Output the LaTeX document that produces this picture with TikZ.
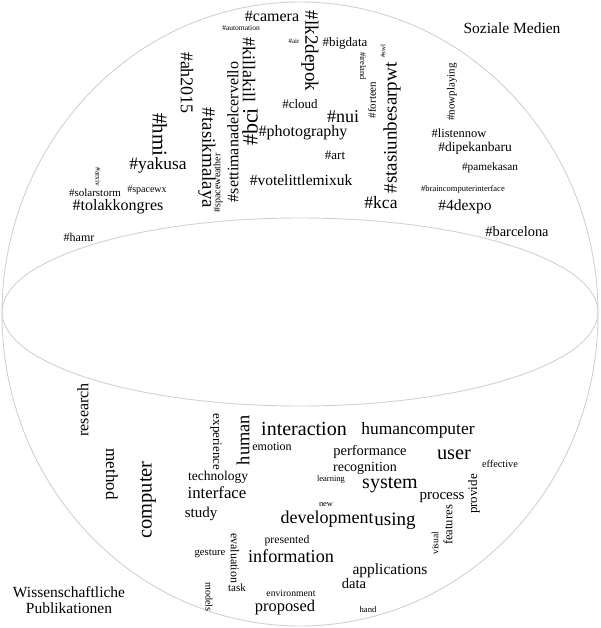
\documentclass[tikz,border=0pt]{standalone}
\usepackage{fontspec}
\setmainfont{Liberation Serif}
\definecolor{sphereGray}{rgb}{0.82,0.82,0.82}

\begin{document}
\begin{tikzpicture}[x=1pt,y=-1pt,
    wd/.style={inner sep=0pt, font=\fontsize{#1}{#1}\selectfont},
    rotup/.style={rotate=90}, rotdn/.style={rotate=-90}]
    \useasboundingbox (0,0) rectangle (600,628);

    % sphere and equator
    \draw [sphereGray,line width=0.9pt] (300,314) ellipse [x radius=298, y radius=312];
    \draw [sphereGray,line width=0.9pt] (300,312) ellipse [x radius=298, y radius=94];

    \node[wd=15.5] (soz) at (512,28) {Soziale Medien};
    \node[wd=15.5,align=center] (wiss) at (69,600) {Wissenschaftliche\\[1pt]Publikationen};

    % hashtags (upper half)
    \node[wd=16] (camera) at (272,16) {\#camera};
    \node[wd=7.5] (automation) at (241,28) {\#automation};
    \node[wd=19,rotdn] (lkdepok) at (310,51) {\#lk2depok};
    \node[wd=7] (air) at (294,41) {\#air};
    \node[wd=13] (bigdata) at (345,43) {\#bigdata};
    \node[wd=18,rotdn] (ahsign) at (187,83) {\#ah2015};
    \node[wd=16,rotup] (settimana) at (233,132) {\#settimanadelcervello};
    \node[wd=18,rotdn] (killakill) at (249,70) {\#killakill};
    \node[wd=22,rotup] (bci) at (250,127) {\#bci};
    \node[wd=13] (cloud) at (300,104) {\#cloud};
    \node[wd=18] (nui) at (343,117) {\#nui};
    \node[wd=16] (photography) at (303,133) {\#photography};
    \node[wd=13] (art) at (335,155) {\#art};
    \node[wd=15.5] (votelittle) at (301,180) {\#votelittlemixuk};
    \node[wd=17.5] (kca) at (381,203) {\#kca};
    \node[wd=19,rotup] (stasiun) at (392,128) {\#stasiunbesarpwt};
    \node[wd=8.5,rotdn] (ireland) at (363,66) {\#ireland};
    \node[wd=11,rotup] (forteen) at (372,100) {\#forteen};
    \node[wd=7,rotup] (swl) at (383,51) {\#swl};
    \node[wd=11,rotup] (nowplaying) at (452,92) {\#nowplaying};
    \node[wd=12.5] (listennow) at (459,133) {\#listennow};
    \node[wd=13.5] (dipekanbaru) at (475,148) {\#dipekanbaru};
    \node[wd=11.3] (pamekasan) at (490,168) {\#pamekasan};
    \node[wd=8.5] (bcinterface) at (463,189) {\#braincomputerinterface};
    \node[wd=15.5] (fourdexpo) at (465,207) {\#4dexpo};
    \node[wd=14.4] (barcelona) at (517,232) {\#barcelona};
    \node[wd=21,rotdn] (hmi) at (160,135) {\#hmi};
    \node[wd=17.4] (yakusa) at (158,165) {\#yakusa};
    \node[wd=19,rotdn] (tasikmalaya) at (207,158) {\#tasikmalaya};
    \node[wd=10,rotup] (spaceweather) at (218,183) {\#spaceweather};
    \node[wd=7.5,rotdn] (arxiv) at (98,177) {\#arxiv};
    \node[wd=11] (solarstorm) at (95,193) {\#solarstorm};
    \node[wd=10] (spacewx) at (147,190) {\#spacewx};
    \node[wd=16] (tolakkongres) at (118,207) {\#tolakkongres};
    \node[wd=12] (hamr) at (79,237) {\#hamr};

    % words (lower half)
    \node[wd=16,rotup] (research) at (83,410) {research};
    \node[wd=17,rotdn] (method) at (112,474) {method};
    \node[wd=20.5,rotup] (computer) at (148,500) {computer};
    \node[wd=13,rotdn] (experience) at (216,442) {experience};
    \node[wd=18.4,rotup] (human) at (243,440) {human};
    \node[wd=12] (emotion) at (272,447) {emotion};
    \node[wd=20] (interaction) at (304,429) {interaction};
    \node[wd=17.4] (humancomputer) at (418,430) {humancomputer};
    \node[wd=14.5] (performance) at (370,452) {performance};
    \node[wd=14] (recognition) at (365,468) {recognition};
    \node[wd=20.4] (user) at (454,455) {user};
    \node[wd=10.3] (effective) at (500,464) {effective};
    \node[wd=8.5] (learning) at (331,479) {learning};
    \node[wd=20] (system) at (390,485) {system};
    \node[wd=15] (process) at (442,498) {process};
    \node[wd=13,rotup] (provide) at (474,494) {provide};
    \node[wd=12.6,rotup] (features) at (448,525) {features};
    \node[wd=9.6,rotup] (visual) at (435,543) {visual};
    \node[wd=8.4] (new) at (326,505) {new};
    \node[wd=18] (development) at (327,519) {development};
    \node[wd=19] (using) at (395,521) {using};
    \node[wd=15] (study) at (201,514) {study};
    \node[wd=13.5] (technology) at (218,477) {technology};
    \node[wd=16.8] (interface) at (217,493) {interface};
    \node[wd=11.7] (presented) at (287,541) {presented};
    \node[wd=18.2] (information) at (291,556) {information};
    \node[wd=12,rotdn] (evaluation) at (235,558) {evaluation};
    \node[wd=10.7] (gesture) at (210,554) {gesture};
    \node[wd=11] (task) at (237,588) {task};
    \node[wd=10,rotdn] (models) at (209,597) {models};
    \node[wd=9.7] (environment) at (291,593) {environment};
    \node[wd=16.4] (proposed) at (285,608) {proposed};
    \node[wd=15.5] (applications) at (390,571) {applications};
    \node[wd=14.6] (data) at (354,583) {data};
    \node[wd=8.7] (hand) at (368,610) {hand};
\end{tikzpicture}
\end{document}
